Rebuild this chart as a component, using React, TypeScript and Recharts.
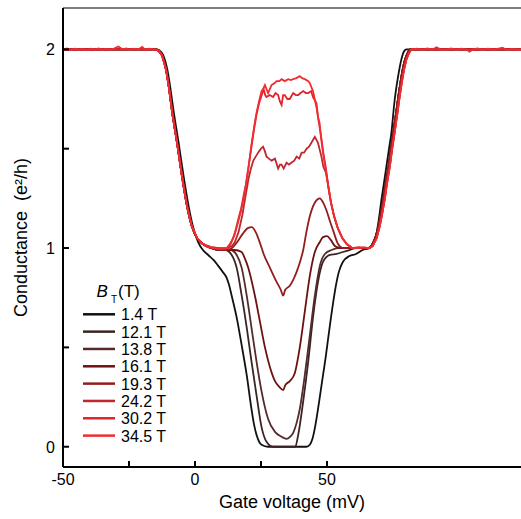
import React from 'react';
import { LineChart, Line, XAxis, YAxis, ReferenceLine, Legend, Label } from 'recharts';

type Pt = [number, number];

const SERIES_NAMES = ['1.4 T', '12.1 T', '13.8 T', '16.1 T', '19.3 T', '24.2 T', '30.2 T', '34.5 T'];
const SERIES_COLORS = ['#111111', '#3c2424', '#572a2a', '#6d1212', '#931c1c', '#bf272c', '#e2232a', '#ef2d32'];

const X_TICKS = [-50, -25, 0, 25, 50];
const X_LABELED = [-50, 0, 50];
const Y_TICKS = [0, 0.5, 1, 1.5, 2];
const Y_LABELED = [0, 1, 2];
const X_DOMAIN: [number, number] = [-50, 123.5];
const Y_DOMAIN: [number, number] = [-0.102, 2.208];

// gate voltage (mV), conductance (e²/h)
const b1_4: Pt[] = [
  [-50, 2], [-30, 2], [-14.5, 2], [-13.5, 1.995], [-12, 1.97], [-10.5, 1.9], [-9.5, 1.82], [-8, 1.68],
  [-6.2, 1.53], [-4.3, 1.36], [-2.4, 1.21], [-0.8, 1.11], [1.2, 1.03], [3, 0.99], [5, 0.965], [7, 0.94],
  [8.8, 0.91], [10.5, 0.88], [12, 0.85], [13, 0.81], [13.9, 0.76], [15.8, 0.65], [17.7, 0.51], [19.6, 0.36],
  [21.4, 0.19], [22.4, 0.11], [23.3, 0.06], [24.3, 0.025], [25.2, 0.01], [27.7, 0], [42.2, 0], [43.5, 0.01],
  [44.5, 0.04], [45.5, 0.1], [46.5, 0.18], [47.5, 0.27], [48.5, 0.36], [49.5, 0.45], [50.5, 0.55], [51.5, 0.65],
  [52.5, 0.74], [53.5, 0.82], [54.5, 0.88], [56, 0.93], [58.5, 0.96], [61, 0.97], [63.5, 0.99], [66.2, 1.0],
  [67.5, 1.03], [68.7, 1.07], [69.7, 1.15], [70.6, 1.24], [71.5, 1.32], [72.5, 1.41], [73.5, 1.5], [74.4, 1.58],
  [75.6, 1.74], [76.9, 1.86], [78.2, 1.95], [79.2, 1.99], [80.1, 2.0], [100, 2.0], [123.5, 2.0],
];

const b12_1: Pt[] = [
  [-50, 2], [-30, 2], [-15, 2], [-14, 1.995], [-12.5, 1.97], [-11, 1.9], [-10, 1.82], [-8.6, 1.68],
  [-6.8, 1.53], [-4.9, 1.36], [-3, 1.21], [-1.2, 1.11], [0.8, 1.05], [3, 1.02], [6, 1.0], [9, 0.99],
  [11.5, 0.99], [13.9, 0.965], [15.8, 0.9], [17.7, 0.76], [19.6, 0.6], [21.4, 0.43], [23.3, 0.26], [25.2, 0.1],
  [27.1, 0.025], [29.6, 0], [38, 0], [39.1, 0.06], [41, 0.23], [42.9, 0.43], [44.7, 0.65], [46.6, 0.83],
  [48.5, 0.93], [51.1, 0.965], [53.6, 0.97], [56, 0.98], [58.5, 0.99], [61, 1.0], [65.5, 1.0], [66.8, 1.01],
  [68.3, 1.05], [69.5, 1.11], [70.5, 1.18], [71.3, 1.24], [72.3, 1.33], [73.3, 1.41], [74.2, 1.5], [75.1, 1.58],
  [76.3, 1.69], [77, 1.76], [77.8, 1.83], [78.7, 1.9], [79.6, 1.95], [80.5, 1.98], [81.5, 2.0], [100, 2.0], [123.5, 2.0],
];

const b13_8: Pt[] = [
  [-50, 2], [-30, 2], [-15, 2], [-14, 1.995], [-12.5, 1.97], [-11, 1.9], [-10, 1.82], [-8.6, 1.68],
  [-6.8, 1.53], [-4.9, 1.36], [-3, 1.21], [-1.2, 1.11], [0.8, 1.05], [3, 1.02], [6, 1.0], [9, 0.99],
  [11.5, 0.99], [13.5, 0.99], [15.8, 0.965], [17.7, 0.9], [19.6, 0.76], [21.4, 0.6], [23.3, 0.43], [25.2, 0.28],
  [27.7, 0.14], [30.3, 0.075], [32.8, 0.05], [34.7, 0.04], [36, 0.05], [37.2, 0.07], [38.5, 0.12], [39.7, 0.19],
  [41.6, 0.36], [43.5, 0.56], [45.4, 0.76], [47.3, 0.91], [49.2, 0.97], [51.7, 0.99], [54, 1.0], [61, 1.0],
  [65.5, 1.0], [66.8, 1.01], [68.3, 1.05], [69.5, 1.11], [70.5, 1.18], [71.3, 1.24], [72.3, 1.33], [73.3, 1.41],
  [74.2, 1.5], [75.1, 1.58], [76.3, 1.69], [77, 1.76], [77.8, 1.83], [78.7, 1.9], [79.6, 1.95], [80.5, 1.98],
  [81.5, 2.0], [100, 2.0], [123.5, 2.0],
];

const b16_1: Pt[] = [
  [-50, 2], [-30, 2], [-15, 2], [-14, 1.995], [-12.5, 1.97], [-11, 1.9], [-10, 1.82], [-8.6, 1.68],
  [-6.8, 1.53], [-4.9, 1.36], [-3, 1.21], [-1.2, 1.11], [0.8, 1.05], [3, 1.02], [6, 1.0], [9, 0.99],
  [11.5, 0.99], [15, 0.99], [17.7, 0.98], [18.8, 0.95], [20.2, 0.9], [22.7, 0.76], [24.6, 0.63], [26.5, 0.5],
  [28.4, 0.4], [30.3, 0.33], [32, 0.3], [33.4, 0.285], [34.2, 0.31], [35.9, 0.33], [37.8, 0.37], [39.7, 0.5],
  [41.6, 0.68], [43.5, 0.86], [45.4, 0.98], [47.3, 1.03], [48.5, 1.055], [50, 1.06], [51.5, 1.04], [53, 1.01],
  [55, 1.0], [61, 1.0], [65.5, 1.0], [66.8, 1.01], [68.3, 1.05], [69.5, 1.11], [70.5, 1.18], [71.3, 1.24],
  [72.3, 1.33], [73.3, 1.41], [74.2, 1.5], [75.1, 1.58], [76.3, 1.69], [77, 1.76], [77.8, 1.83], [78.7, 1.9],
  [79.6, 1.95], [80.5, 1.98], [81.5, 2.0], [100, 2.0], [123.5, 2.0],
];

const b19_3: Pt[] = [
  [-50, 2], [-30, 2], [-15, 2], [-14, 1.995], [-12.5, 1.97], [-11, 1.9], [-10, 1.82], [-8.6, 1.68],
  [-6.8, 1.53], [-4.9, 1.36], [-3, 1.21], [-1.2, 1.11], [0.8, 1.05], [3, 1.02], [6, 1.0], [9, 0.99],
  [12, 0.99], [14, 1.0], [16, 1.03], [18, 1.07], [20, 1.1], [21.5, 1.105], [23, 1.08], [24.5, 1.03],
  [26, 0.97], [28.4, 0.9], [30.9, 0.83], [32.5, 0.79], [33.4, 0.76], [34.2, 0.79], [35.9, 0.81], [37.2, 0.84],
  [38.5, 0.88], [40, 0.94], [41, 0.99], [42.2, 1.08], [43.5, 1.16], [44.7, 1.21], [46, 1.24], [47.3, 1.25],
  [48.5, 1.23], [49.8, 1.19], [51, 1.14], [52.3, 1.09], [54.2, 1.02], [56, 1.0], [61, 1.0], [65.5, 1.0],
  [66.8, 1.01], [68.3, 1.05], [69.5, 1.11], [70.5, 1.18], [71.3, 1.24], [72.3, 1.33], [73.3, 1.41], [74.2, 1.5],
  [75.1, 1.58], [76.3, 1.69], [77, 1.76], [77.8, 1.83], [78.7, 1.9], [79.6, 1.95], [80.5, 1.98], [81.5, 2.0],
  [100, 2.0], [123.5, 2.0],
];

const b24_2: Pt[] = [
  [-50, 2], [-30, 2], [-15, 2], [-14, 1.995], [-12.5, 1.97], [-11, 1.9], [-10, 1.82], [-8.6, 1.68],
  [-6.8, 1.53], [-4.9, 1.36], [-3, 1.21], [-1.2, 1.11], [0.8, 1.05], [3, 1.02], [6, 1.005], [9, 1.0],
  [12, 1.0], [14, 1.01], [15.1, 1.03], [16.5, 1.08], [18, 1.17], [19, 1.25], [20.3, 1.35], [21.2, 1.4],
  [22.1, 1.44], [23, 1.46], [23.9, 1.48], [25, 1.5], [25.8, 1.51], [26.4, 1.49], [27.1, 1.46], [28, 1.45],
  [29, 1.44], [30.3, 1.45], [31.5, 1.4], [32.2, 1.42], [32.8, 1.42], [33.6, 1.4], [34.7, 1.43], [35.6, 1.42],
  [36.6, 1.43], [37.6, 1.44], [38.5, 1.46], [39.5, 1.45], [40.4, 1.48], [41.3, 1.48], [42.3, 1.5], [43.2, 1.51],
  [44.1, 1.53], [45.4, 1.56], [46.6, 1.53], [47.9, 1.46], [48.6, 1.41], [49.6, 1.38], [50.5, 1.31], [51.5, 1.23],
  [52.7, 1.16], [54.1, 1.1], [55.8, 1.05], [57.5, 1.02], [59.5, 1.0], [62, 1.0], [66, 1.0], [67.3, 1.01],
  [68.8, 1.05], [70, 1.11], [71, 1.18], [71.8, 1.24], [72.8, 1.33], [73.8, 1.41], [74.7, 1.5], [75.6, 1.58],
  [76.8, 1.69], [77.5, 1.76], [78.3, 1.83], [79.2, 1.9], [80.1, 1.95], [81, 1.98], [82, 2.0], [100, 2.0], [123.5, 2.0],
];

const b30_2: Pt[] = [
  [-50, 2], [-30, 2], [-15, 2], [-14, 1.995], [-12.5, 1.97], [-11, 1.9], [-10, 1.82], [-8.6, 1.68],
  [-6.8, 1.53], [-4.9, 1.36], [-3, 1.21], [-1.2, 1.11], [0.8, 1.05], [3, 1.02], [6, 1.005], [9, 1.0],
  [11, 0.995], [12.5, 1.0], [13.5, 1.02], [15, 1.07], [16.5, 1.15], [17.5, 1.2], [18.5, 1.27], [19.3, 1.32],
  [20.3, 1.41], [21.4, 1.51], [22.4, 1.6], [23.3, 1.67], [24.3, 1.73], [25.3, 1.77], [26, 1.8], [26.6, 1.77],
  [27.1, 1.76], [28.3, 1.77], [29.6, 1.76], [30.5, 1.78], [31.5, 1.77], [32.1, 1.74], [32.8, 1.72], [33.4, 1.77],
  [34, 1.77], [35, 1.75], [35.9, 1.75], [37.2, 1.78], [38.2, 1.77], [39.1, 1.77], [40, 1.78], [41, 1.79],
  [42, 1.78], [42.9, 1.78], [44, 1.79], [44.7, 1.76], [46, 1.73], [46.7, 1.65], [47.7, 1.57], [48.6, 1.48],
  [49.6, 1.4], [50.5, 1.31], [51.5, 1.23], [52.7, 1.16], [54.1, 1.1], [55.8, 1.05], [57.5, 1.02], [59.5, 1.0],
  [62, 1.005], [66, 1.0], [67.3, 1.01], [68.8, 1.05], [70, 1.11], [71, 1.18], [71.8, 1.24], [72.8, 1.33],
  [73.8, 1.41], [74.7, 1.5], [75.6, 1.58], [76.8, 1.69], [77.5, 1.76], [78.3, 1.83], [79.2, 1.9], [80.1, 1.95],
  [81, 1.98], [82, 2.0], [100, 2.0], [123.5, 2.0],
];

const b34_5: Pt[] = [
  [-50, 2.0], [-48.5, 2.004], [-47, 1.996], [-45.5, 2.003], [-44, 1.998], [-42.5, 2.002], [-41, 1.995], [-39.5, 2.003],
  [-38, 1.999], [-36.5, 2.004], [-35, 1.997], [-33.5, 2.002], [-32, 1.998], [-30.5, 2.005], [-29, 2.014], [-27.5, 2.0],
  [-26, 2.004], [-24.5, 1.997], [-23, 2.003], [-21.5, 1.999], [-20, 2.012], [-19, 1.998], [-17.5, 2.003], [-16, 2.0],
  [-14.5, 1.998], [-13.5, 1.99], [-12.5, 1.97], [-11, 1.9], [-10, 1.82], [-8.6, 1.68], [-6.8, 1.53], [-4.9, 1.36],
  [-3, 1.21], [-1.2, 1.11], [0.8, 1.05], [3, 1.02], [5, 1.005], [7, 1.0], [9, 0.995], [11, 1.0],
  [12, 1.0], [13.2, 1.02], [14.5, 1.05], [15.5, 1.09], [16.5, 1.14], [17.5, 1.19], [18.3, 1.24], [19.3, 1.32],
  [20.3, 1.41], [21.4, 1.52], [22.4, 1.61], [23.3, 1.68], [24.3, 1.74], [25.2, 1.79], [25.8, 1.8], [26.5, 1.82],
  [27.7, 1.78], [29, 1.82], [30.2, 1.83], [30.9, 1.84], [32, 1.84], [32.8, 1.85], [34, 1.84], [35.3, 1.85],
  [36.3, 1.845], [37.2, 1.85], [38.4, 1.855], [39.7, 1.865], [40.6, 1.855], [41.6, 1.85], [42.9, 1.84], [43.5, 1.83],
  [44.1, 1.81], [44.7, 1.79], [46, 1.71], [46.6, 1.66], [47.2, 1.63], [47.7, 1.56], [48.6, 1.47], [49.6, 1.39],
  [50.5, 1.31], [51.5, 1.23], [52.7, 1.16], [54.1, 1.1], [55.8, 1.05], [57.5, 1.02], [59.5, 1.0], [62, 1.0],
  [64, 1.003], [66, 1.0], [67.3, 1.01], [68.8, 1.05], [70, 1.11], [71, 1.18], [71.8, 1.24], [72.8, 1.33],
  [73.8, 1.41], [74.7, 1.5], [75.6, 1.58], [76.8, 1.69], [77.5, 1.76], [78.3, 1.83], [79.2, 1.9], [80.1, 1.95],
  [81, 1.98], [82, 2.0], [84, 2.003], [86, 1.997], [88, 2.004], [90, 1.999], [91.5, 2.01], [93, 2.0],
  [95, 1.997], [97, 2.004], [99, 1.998], [101, 2.003], [103, 1.998], [104, 1.988], [105.5, 2.0], [107, 2.004],
  [109, 1.998], [111, 2.003], [113, 1.999], [115, 2.004], [116.5, 2.008], [118, 1.996], [120, 2.002], [122, 1.998],
  [123.5, 2.0],
];

const SERIES_DATA: Pt[][] = [b1_4, b12_1, b13_8, b16_1, b19_3, b24_2, b30_2, b34_5];

const FONT = '"Liberation Sans", Arial, Helvetica, sans-serif';

function XTick({ x, y, payload }: any) {
  const v = payload.value;
  return (
    <g>
      <line x1={x} x2={x} y1={y} y2={y - 6} stroke="#000" strokeWidth={2} />
      {X_LABELED.includes(v) && (
        <text x={x} y={y + 18} textAnchor="middle" fontSize={16} fill="#000" fontFamily={FONT}>
          {v}
        </text>
      )}
    </g>
  );
}

function YTick({ x, y, payload }: any) {
  const v = payload.value;
  return (
    <g>
      <line x1={x} x2={x + 6} y1={y} y2={y} stroke="#000" strokeWidth={2} />
      {Y_LABELED.includes(v) && (
        <text x={x - 8} y={y + 6} textAnchor="end" fontSize={16} fill="#000" fontFamily={FONT}>
          {v}
        </text>
      )}
    </g>
  );
}

function LegendBox() {
  const row = 17.33;
  return (
    <svg width={90} height={180} style={{ display: 'block', fontFamily: FONT }}>
      <text x={16.5} y={18.5} fontSize={17} fontStyle="italic" fill="#000">B</text>
      <text x={31} y={25} fontSize={10} fill="#000">T</text>
      <text x={38} y={18.5} fontSize={17} fill="#000">(T)</text>
      {SERIES_NAMES.map((name, i) => (
        <g key={name}>
          <line x1={3} x2={35} y1={36.3 + i * row} y2={36.3 + i * row} stroke={SERIES_COLORS[i]} strokeWidth={2.5} />
          <text x={41} y={36.3 + i * row + 6} fontSize={16} fill="#000">{name}</text>
        </g>
      ))}
    </svg>
  );
}

export default function App() {
  return (
    <div style={{ position: 'absolute', left: 0, top: 0, fontFamily: FONT, background: '#fff' }}>
      <LineChart width={521} height={519} margin={{ top: 8, right: 0, bottom: 0, left: 0 }}>
        <XAxis
          dataKey="x"
          type="number"
          domain={X_DOMAIN}
          ticks={X_TICKS}
          allowDataOverflow
          height={52}
          tickSize={0}
          tickMargin={0}
          tickLine={false}
          tick={<XTick />}
          axisLine={{ stroke: '#000', strokeWidth: 2 }}
          interval={0}
        >
          <Label
            content={({ viewBox }: any) => (
              <text
                x={viewBox.x + viewBox.width / 2}
                y={viewBox.y + 41}
                textAnchor="middle"
                fontSize={18}
                fill="#000"
                fontFamily={FONT}
              >
                Gate voltage (mV)
              </text>
            )}
          />
        </XAxis>
        <YAxis
          type="number"
          domain={Y_DOMAIN}
          ticks={Y_TICKS}
          allowDataOverflow
          width={63}
          tickSize={0}
          tickMargin={0}
          tickLine={false}
          tick={<YTick />}
          axisLine={{ stroke: '#000', strokeWidth: 2 }}
          interval={0}
        >
          <Label
            content={({ viewBox }: any) => {
              const cx = viewBox.x + 27;
              const cy = viewBox.y + viewBox.height / 2;
              return (
                <text
                  x={cx}
                  y={cy}
                  transform={`rotate(-90 ${cx} ${cy})`}
                  textAnchor="middle"
                  fontSize={18}
                  fill="#000"
                  fontFamily={FONT}
                  style={{ whiteSpace: 'pre' }}
                >
                  {'Conductance  (e²/h)'}
                </text>
              );
            }}
          />
        </YAxis>
        <ReferenceLine y={Y_DOMAIN[1]} stroke="#555" strokeWidth={1.5} />
        {SERIES_DATA.map((pts, i) => (
          <Line
            key={SERIES_NAMES[i]}
            name={SERIES_NAMES[i]}
            data={pts.map(([x, y]) => ({ x, y }))}
            dataKey="y"
            type={i < 5 ? 'monotone' : 'linear'}
            stroke={SERIES_COLORS[i]}
            strokeWidth={1.8}
            dot={false}
            activeDot={false}
            isAnimationActive={false}
          />
        ))}
        <Legend
          layout="vertical"
          align="center"
          verticalAlign="middle"
          wrapperStyle={{ left: 80, top: 278, width: 90, height: 180 }}
          content={() => <LegendBox />}
        />
      </LineChart>
    </div>
  );
}
